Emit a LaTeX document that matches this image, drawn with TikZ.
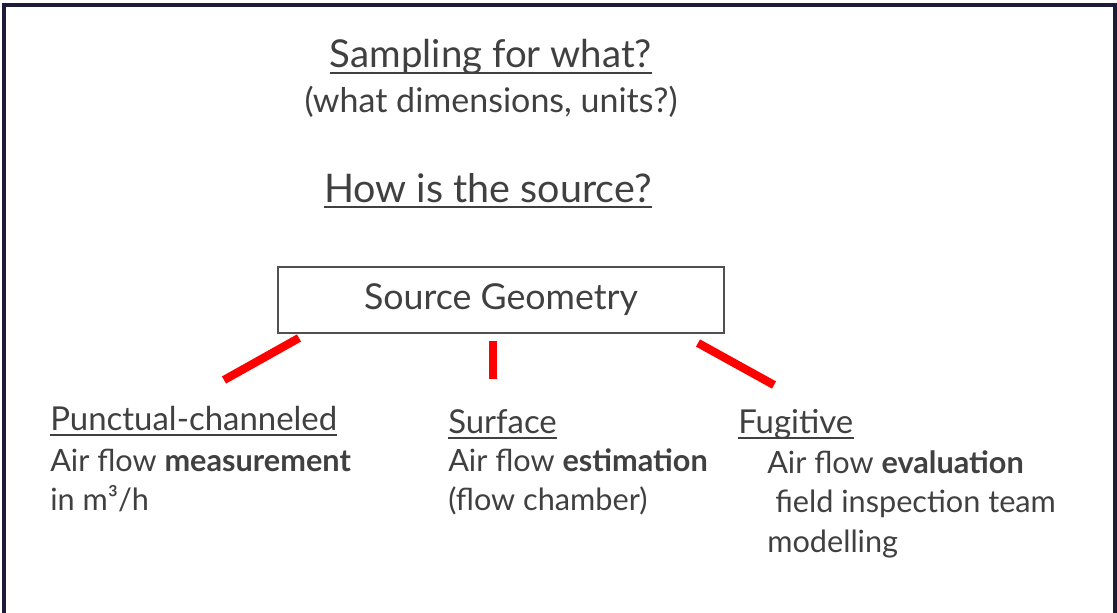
\documentclass[tikz,border=0pt]{standalone}
\usepackage{fontspec}
\setmainfont{Lato}
\usetikzlibrary{positioning}
\definecolor{txtgray}{HTML}{404040}
\definecolor{framenavy}{HTML}{1C1C38}
\definecolor{boxgray}{HTML}{505050}
\tikzset{
  txt/.style={inner sep=0pt, text=txtgray, anchor=base west},
  uline/.style={draw=txtgray, line width=1.3pt},
  spoke/.style={draw=red, line width=6.2pt},
}
\newcommand{\fsz}[1]{\fontsize{#1}{1.2\dimexpr#1pt\relax}\selectfont}
\begin{document}
\begin{tikzpicture}[x=0.75pt,y=-0.75pt]
\useasboundingbox (0,0) rectangle (1117,613);
\draw[framenavy, line width=2.4pt] (4,613) -- (4,5) -- (1115,5) -- (1115,613);

\node[txt, anchor=base, font=\fsz{28.8}] (sampling) at (491,68) {Sampling for what?};
\draw[uline] ([yshift=-4pt]sampling.base west) -- ([yshift=-4pt]sampling.base east);
\node[txt, anchor=base, font=\fsz{25.5}] (units) at (491,113) {(what dimensions, units?)};
\node[txt, anchor=base, font=\fsz{29.6}] (how) at (488,202) {How is the source?};
\draw[uline] ([yshift=-4pt]how.base west) -- ([yshift=-4pt]how.base east);

\node[draw=boxgray, line width=1.3pt, minimum width=334pt, minimum height=49pt,
      text=txtgray, font=\fsz{26.8}] (geo) at (501,300) {Source Geometry};

\coordinate (la) at (299,338); \coordinate (lb) at (224,380);
\coordinate (ma) at (493,341); \coordinate (mb) at (493,379);
\coordinate (ra) at (698,343); \coordinate (rb) at (774,385);
\draw[spoke] (la) -- (lb);
\draw[spoke] (ma) -- (mb);
\draw[spoke] (ra) -- (rb);

\node[txt, font=\fsz{24.7}] (punct) at (50,430) {Punctual-channeled};
\draw[uline] ([yshift=-3.5pt]punct.base west) -- ([yshift=-3.5pt]punct.base east);
\node[txt, font=\fsz{23}] (punct1) at (50,471) {Air flow \textbf{measurement}};
\node[txt, font=\fsz{23}] (punct2) at (50,510) {in m³/h};

\node[txt, font=\fsz{24.7}] (surf) at (448,433) {Surface};
\draw[uline] ([yshift=-3.5pt]surf.base west) -- ([yshift=-3.5pt]surf.base east);
\node[txt, font=\fsz{23}] (surf1) at (448,471) {Air flow \textbf{estimation}};
\node[txt, font=\fsz{23}] (surf2) at (448,510) {(flow chamber)};

\node[txt, font=\fsz{24.7}] (fug) at (738,433) {Fugitive};
\draw[uline] ([yshift=-3.5pt]fug.base west) -- ([yshift=-3.5pt]fug.base east);
\node[txt, font=\fsz{23}] (fug1) at (767,473) {Air flow \textbf{evaluation}};
\node[txt, font=\fsz{23}] (fug2) at (775,512) {field inspection team};
\node[txt, font=\fsz{23}] (fug3) at (767,552) {modelling};
\end{tikzpicture}
\end{document}
